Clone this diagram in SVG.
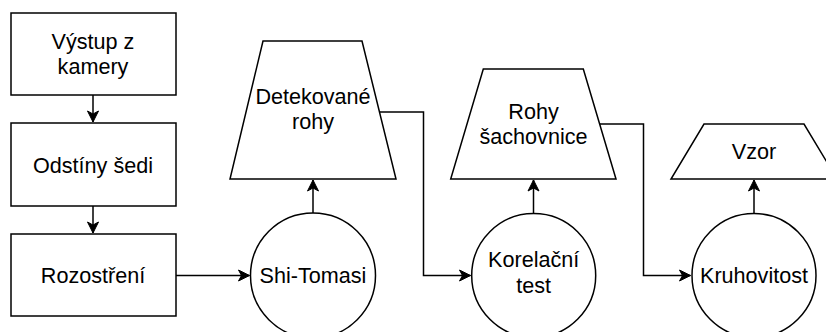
<svg xmlns="http://www.w3.org/2000/svg" width="826" height="332" viewBox="0 0 826 332">
<defs>
<style>
.s{fill:#fff;stroke:#000;stroke-width:1.5}
.c{fill:none;stroke:#000;stroke-width:1.5}
text{font-family:"Liberation Sans",Arial,sans-serif;font-size:21.6px;fill:#000;text-anchor:middle}
</style>
<marker id="a" markerUnits="userSpaceOnUse" markerWidth="12" markerHeight="12" refX="11" refY="5.5" orient="auto" overflow="visible">
<path d="M0,0 L11,5.5 L0,11 L3,5.5 z" fill="#000" stroke="#000" stroke-width="1"/>
</marker>
</defs>
<rect width="826" height="332" fill="#fff"/>
<g id="connectors">
<path class="c" d="M93,95 V122" marker-end="url(#a)"/>
<path class="c" d="M93,206 V233" marker-end="url(#a)"/>
<path class="c" d="M175.5,275.5 H249.5" marker-end="url(#a)"/>
<path class="c" d="M313,213 V180" marker-end="url(#a)"/>
<path class="c" d="M379.5,112 H423.5 V275.5 H470.5" marker-end="url(#a)"/>
<path class="c" d="M533.5,213 V180" marker-end="url(#a)"/>
<path class="c" d="M599.7,124 H643.5 V275.5 H690.5" marker-end="url(#a)"/>
<path class="c" d="M754,213 V180" marker-end="url(#a)"/>
</g>
<g id="vystup">
<rect class="s" x="11" y="13" width="165" height="82"/>
<text x="93" y="49">Výstup z</text>
<text x="93" y="74">kamery</text>
</g>
<g id="odstiny">
<rect class="s" x="11" y="123" width="165" height="83"/>
<text x="93" y="172.5">Odstíny šedi</text>
</g>
<g id="rozostreni">
<rect class="s" x="11" y="234" width="165" height="82"/>
<text x="93" y="283">Rozostření</text>
</g>
<g id="shitomasi">
<circle class="s" cx="313" cy="275.5" r="62.5"/>
<text x="313" y="283">Shi-Tomasi</text>
</g>
<g id="detekovane">
<polygon class="s" points="263,41 362,41 396,179 230,179"/>
<text x="313" y="104">Detekované</text>
<text x="313" y="129">rohy</text>
</g>
<g id="korelacni">
<circle class="s" cx="533.7" cy="275.5" r="62"/>
<text x="533.7" y="267">Korelační</text>
<text x="533.7" y="292.5">test</text>
</g>
<g id="sachovnice">
<polygon class="s" points="483.3,69 583.3,69 616,179 450.7,179"/>
<text x="533.5" y="118.5">Rohy</text>
<text x="533.5" y="143.5">šachovnice</text>
</g>
<g id="kruhovitost">
<circle class="s" cx="754" cy="275.5" r="62"/>
<text x="754" y="283">Kruhovitost</text>
</g>
<g id="vzor">
<polygon class="s" points="704,124 804,124 837,179 671,179"/>
<text x="754" y="159">Vzor</text>
</g>
</svg>
